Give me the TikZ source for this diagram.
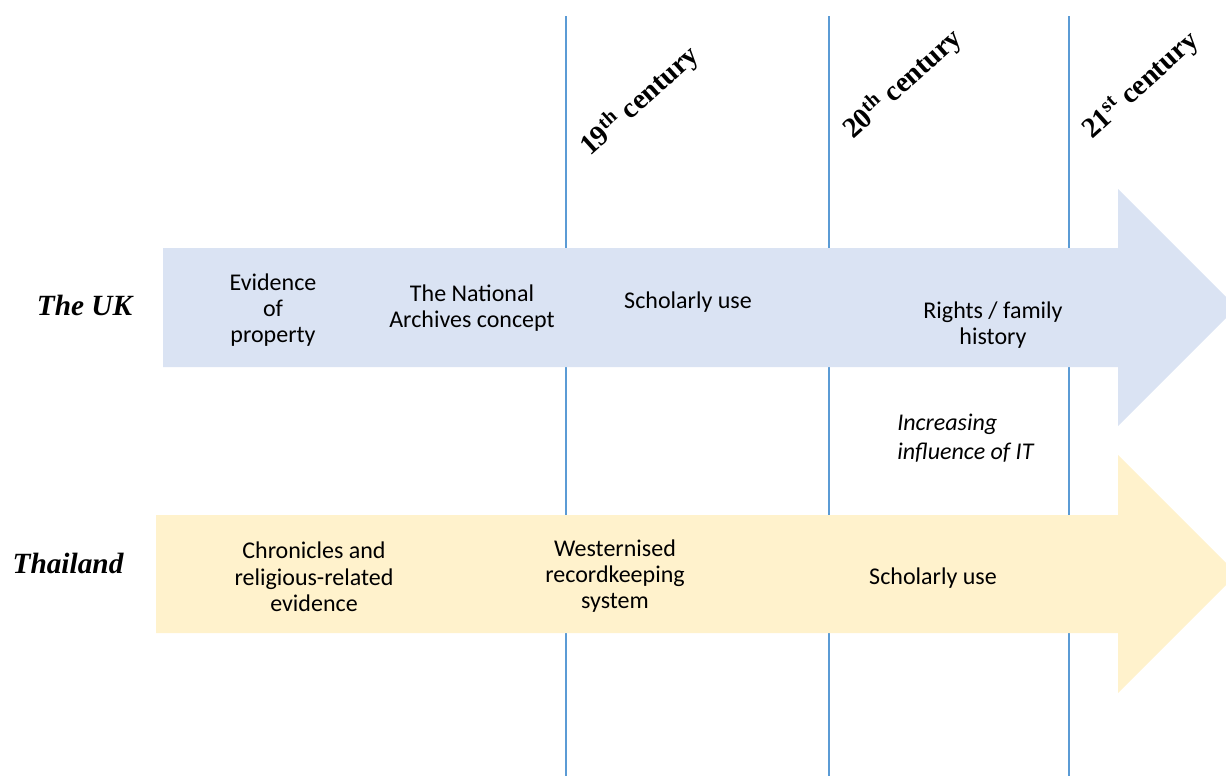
\documentclass[tikz,border=0pt]{standalone}
\usepackage{fontspec}
\setmainfont{Carlito}
\newfontfamily\labfont{Liberation Serif}
\definecolor{ukblue}{HTML}{DAE3F3}
\definecolor{thyellow}{HTML}{FFF2CC}
\definecolor{gridblue}{HTML}{5B9BD5}
\begin{document}
\begin{tikzpicture}[x=0.75pt,y=-0.75pt,
  bodytext/.style={font=\fontsize{18}{19.7}\selectfont, align=center, inner sep=0pt},
  ittext/.style={font=\fontsize{18}{21.5}\selectfont\itshape, align=left, inner sep=0pt},
  country/.style={font=\labfont\bfseries\itshape\fontsize{22}{24}\selectfont, inner sep=0pt, anchor=base},
  century/.style={font=\labfont\bfseries\fontsize{21.5}{24}\selectfont, inner sep=0pt, anchor=base west, rotate=42},
  gridline/.style={draw=gridblue, line width=0.9pt}]
\useasboundingbox (0,0) rectangle (1226,776);
\clip (0,0) rectangle (1226,776);
% vertical century lines
\coordinate (l1t) at (566,16); \coordinate (l1b) at (566,776);
\coordinate (l2t) at (829,16); \coordinate (l2b) at (829,776);
\coordinate (l3t) at (1069,16); \coordinate (l3b) at (1069,776);
\draw[gridline] (l1t) -- (l1b);
\draw[gridline] (l2t) -- (l2b);
\draw[gridline] (l3t) -- (l3b);
% arrows
\fill[ukblue] (163,248) -- (1118,248) -- (1118,189) -- (1236.5,307.5) -- (1118,426) -- (1118,367) -- (163,367) -- cycle;
\fill[thyellow] (156,515) -- (1118,515) -- (1118,455) -- (1237,574) -- (1118,693) -- (1118,633) -- (156,633) -- cycle;
% century labels
\node[century] (c19) at (590,157) {19\textsuperscript{th} century};
\node[century] (c20) at (853,140) {20\textsuperscript{th} century};
\node[century] (c21) at (1092,140) {21\textsuperscript{st} century};
% country labels
\node[country] (uk) at (84.5,315) {The UK};
\node[country] (th) at (68,573) {Thailand};
% UK texts
\node[bodytext] (uk1) at (273,310) {Evidence\\of\\property};
\node[bodytext] (uk2) at (472,308) {The National\\Archives concept};
\node[bodytext] (uk3) at (688,302) {Scholarly use};
\node[bodytext] (uk4) at (993,325) {Rights / family\\history};
\node[ittext, anchor=west] (it) at (897,438) {Increasing\\influence of IT};
% Thailand texts
\node[bodytext] (th1) at (314,577) {Chronicles and\\religious-related\\evidence};
\node[bodytext] (th2) at (615,576) {Westernised\\recordkeeping\\system};
\node[bodytext] (th3) at (933,578) {Scholarly use};
\end{tikzpicture}
\end{document}
